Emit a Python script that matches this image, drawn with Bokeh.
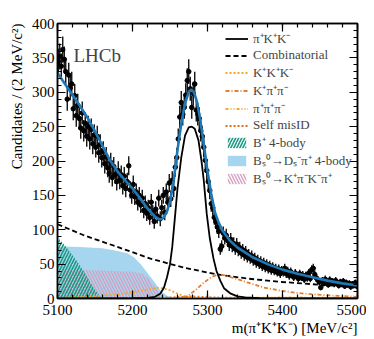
import math
from bokeh.plotting import figure
from bokeh.models import (Range1d, LinearAxis, SingleIntervalTicker, Legend, LegendItem, Label,
                          CustomJSTickFormatter, Title)
from bokeh.embed import file_html
from bokeh.resources import INLINE

# ---------------- data ----------------
bin_lo = 5100
bin_width = 2
counts = [
    345, 352, 338, 362, 348, 330, 290, 325, 306, 312,
    276, 295, 266, 281, 262, 248, 270, 244, 255, 236,
    250, 232, 246, 225, 238, 220, 236, 212, 224, 205,
    214, 196, 206, 190, 182, 198, 176, 192, 180, 170,
    186, 172, 180, 164, 178, 160, 170, 193, 158, 150,
    166, 148, 155, 140, 150, 136, 146, 128, 138, 124,
    132, 118, 140, 125, 112, 130, 120, 146, 116, 132,
    150, 125, 155, 140, 168,
    145, 172, 160, 191, 205, 232, 264, 285, 268, 278,
    296, 317, 330, 305, 278, 298, 312, 274, 268, 262,
    244, 236, 220, 201, 186, 170, 157, 138, 132, 118,
    112, 104, 98, 72, 76, 95, 88, 92, 84, 78,
    86, 76, 80, 72, 79, 70, 74, 66, 71, 63,
    68, 60, 64, 58, 62, 55, 59, 52, 56, 50,
    54, 47, 52, 45, 50, 43, 48, 41, 46, 40,
    44, 38, 43, 36, 41,
    38, 44, 36, 40, 33, 39, 35, 31, 37, 33,
    29, 36, 31, 34, 28, 33, 30, 37, 29, 42,
    44, 35, 30, 27, 24, 16, 26, 22, 28, 24,
    20, 27, 23, 25, 21, 26, 22, 19, 24, 21,
    25, 18, 23, 20, 22, 17, 21, 19, 23, 18,
]
mass = [bin_lo + bin_width * (i + 0.5) for i in range(len(counts))]

tot_m = [5100, 5110, 5120, 5130, 5140, 5150, 5160, 5170, 5180, 5190, 5200, 5210, 5220, 5230, 5236,
         5240, 5245, 5250, 5255, 5260, 5265, 5270, 5275, 5278, 5282, 5286, 5290, 5295, 5300, 5305,
         5310, 5315, 5320, 5330, 5340, 5350, 5360, 5370, 5380, 5390, 5400, 5420, 5440, 5460, 5480, 5500]
tot_v = [328, 312, 296, 280, 263, 243, 222, 201, 185, 172, 160, 146, 131, 119, 115,
         116, 124, 140, 172, 216, 254, 284, 300, 304, 300, 286, 262, 225, 185, 152,
         125, 110, 99, 84, 74, 67, 60, 55, 50, 46, 42, 36, 31, 26, 22, 19]

sig_m = [5100, 5150, 5200, 5220, 5230, 5237, 5242, 5246, 5250, 5253, 5257, 5260, 5265, 5270, 5275,
         5279, 5283, 5288, 5292, 5295, 5299, 5303, 5308, 5312, 5317, 5322, 5331, 5340, 5350, 5370,
         5400, 5450, 5500]
sig_v = [0.0, 0.1, 0.4, 1.0, 2.5, 7, 16, 31, 50, 75, 123, 160, 205, 237, 249,
         250, 247, 230, 200, 172, 123, 88, 58, 40, 26, 15, 7, 3, 1.5, 0.5,
         0.2, 0.1, 0.0]

comb_m = [5100, 5135, 5180, 5224, 5268, 5313, 5353, 5400, 5450, 5500]
comb_v = [108, 92, 75, 58, 45, 35, 29, 24, 20, 17]

kkk_m = [5100, 5130, 5157, 5180, 5201, 5220, 5233, 5240, 5250, 5260, 5270, 5280, 5290, 5310, 5350, 5400, 5500]
kkk_v = [0.5, 2, 4, 6, 9, 13, 15.5, 15, 12, 7, 3, 1, 0.3, 0.1, 0, 0, 0]

kpp_m = [5100, 5200, 5250, 5265, 5273, 5285, 5295, 5305, 5315, 5325, 5340, 5353, 5375, 5397, 5420, 5441, 5470, 5500]
kpp_v = [0, 0, 0.5, 1.5, 3, 13, 23, 31, 35.5, 33, 28, 23.5, 16, 11.5, 8, 6, 4, 2.5]

ppp_m = [5100, 5200, 5300, 5340, 5380, 5420, 5460, 5500]
ppp_v = [0, 0, 0.3, 1, 1.5, 1.5, 1.2, 1]

self_m = [5100, 5200, 5250, 5280, 5310, 5350, 5500]
self_v = [0.5, 0.8, 1.5, 3, 1.5, 0.8, 0.3]

dspi_m = [5100, 5130, 5160, 5180, 5193, 5202, 5211, 5220, 5228, 5237, 5246, 5255, 5265]
dspi_v = [76, 75, 73, 69, 66, 60, 50, 37, 26, 12, 4, 1, 0]

kpkp_m = [5100, 5150, 5200, 5215, 5222, 5230, 5238, 5245]
kpkp_v = [42, 41, 39, 36, 28, 17, 6, 0]

b4_m = [5100, 5110, 5120, 5130, 5140, 5150, 5158, 5162]
b4_v = [89, 77, 63, 48, 31, 12, 2, 0]

x_ticks_interval = 100
y_ticks_interval = 50

# ---------------- figure ----------------
FONT = "Liberation Serif"
p = figure(width=366, height=339, output_backend="svg", toolbar_location=None,
           x_range=Range1d(5100, 5500), y_range=Range1d(0, 400),
           min_border_left=57, min_border_right=9, min_border_top=23, min_border_bottom=41)
p.xgrid.visible = False
p.ygrid.visible = False
p.outline_line_color = "black"
p.outline_line_width = 1.5
p.background_fill_color = "white"

def style_axis(ax, labels=True):
    ax.major_tick_in = 8
    ax.major_tick_out = 0
    ax.minor_tick_in = 4
    ax.minor_tick_out = 0
    ax.axis_line_color = "black"
    ax.axis_line_width = 1.5
    ax.major_tick_line_width = 1.2
    ax.minor_tick_line_width = 1.2
    ax.major_label_text_font = FONT
    ax.major_label_text_font_size = "15px"
    ax.major_label_text_color = "black"
    if not labels:
        ax.formatter = CustomJSTickFormatter(code="return ''")
        ax.major_label_standoff = 0

p.xaxis.ticker = SingleIntervalTicker(interval=x_ticks_interval, num_minor_ticks=5)
p.yaxis.ticker = SingleIntervalTicker(interval=y_ticks_interval, num_minor_ticks=5)
style_axis(p.xaxis[0])
style_axis(p.yaxis[0])
p.xaxis.major_label_standoff = 6
p.yaxis.major_label_standoff = 3

top = LinearAxis(ticker=SingleIntervalTicker(interval=x_ticks_interval, num_minor_ticks=5))
right = LinearAxis(ticker=SingleIntervalTicker(interval=y_ticks_interval, num_minor_ticks=5))
style_axis(top, labels=False)
style_axis(right, labels=False)
p.add_layout(top, "above")
p.add_layout(right, "right")

# axis titles
p.add_layout(Title(text="m(π⁺K⁺K⁻) [MeV/c²]", align="right", text_font=FONT,
                   text_font_size="15px", text_font_style="normal", standoff=0,
                   text_color="black"), "below")
p.add_layout(Title(text="Candidates / (2 MeV/c²)", align="right", text_font=FONT,
                   text_font_size="15px", text_font_style="normal", standoff=8,
                   text_color="black"), "left")

# ---------------- components ----------------
r_dspi = p.varea(x=dspi_m, y1=0, y2=dspi_v, fill_color="#a6d6ef", fill_alpha=1.0)
r_kpkp = p.varea(x=kpkp_m, y1=0, y2=kpkp_v, fill_alpha=0, hatch_pattern="\\",
                 hatch_color="#d59fc2", hatch_scale=6, hatch_weight=1.4)
r_b4 = p.varea(x=b4_m, y1=0, y2=b4_v, fill_alpha=0, hatch_pattern="/",
               hatch_color="#1a9a80", hatch_scale=6, hatch_weight=1.6)

r_comb = p.line(comb_m, comb_v, line_color="black", line_width=1.8, line_dash="5 3")
r_kkk = p.line(kkk_m, kkk_v, line_color="#f5a623", line_width=1.8, line_dash="2 2")
r_kpp = p.line(kpp_m, kpp_v, line_color="#e67e30", line_width=1.8, line_dash="4 2 1 2")
r_ppp = p.line(ppp_m, ppp_v, line_color="#f0aa30", line_width=1.8, line_dash="3 2 1 2 1 2")
r_self = p.line(self_m, self_v, line_color="#d9701f", line_width=1.8, line_dash="2 2")
r_sig = p.line(sig_m, sig_v, line_color="black", line_width=1.8)

# data with Poisson errors
err_lo = [c - math.sqrt(c) for c in counts]
err_hi = [c + math.sqrt(c) for c in counts]
p.segment(x0=mass, y0=err_lo, x1=mass, y1=err_hi, line_color="black", line_width=1.3)
p.scatter(mass, counts, size=4.5, fill_color="black", line_color="black")

p.line(tot_m, tot_v, line_color="#1f78b4", line_width=2.6)

# ---------------- legend ----------------
items = [
    LegendItem(label="π⁺K⁺K⁻", renderers=[r_sig]),
    LegendItem(label="Combinatorial", renderers=[r_comb]),
    LegendItem(label="K⁺K⁺K⁻", renderers=[r_kkk]),
    LegendItem(label="K⁺π⁺π⁻", renderers=[r_kpp]),
    LegendItem(label="π⁺π⁺π⁻", renderers=[r_ppp]),
    LegendItem(label="Self misID", renderers=[r_self]),
    LegendItem(label="B⁺ 4-body", renderers=[r_b4]),
    LegendItem(label="Bₛ⁰→Dₛ⁻π⁺ 4-body", renderers=[r_dspi]),
    LegendItem(label="Bₛ⁰→K⁺π⁻K⁻π⁺", renderers=[r_kpkp]),
]
legend = Legend(items=items, location=(168, 111), orientation="vertical",
                background_fill_alpha=0, border_line_alpha=0,
                glyph_width=23, glyph_height=13, label_height=13, spacing=0,
                label_standoff=5, padding=0, margin=0,
                label_text_font=FONT, label_text_font_size="13px")
p.add_layout(legend, "center")

# ---------------- texts ----------------
p.add_layout(Label(x=16, y=243, x_units="screen", y_units="screen", text="LHCb",
                   text_font=FONT, text_font_size="19px", text_baseline="alphabetic"))

open("out.html", "w").write(file_html(p, INLINE))
